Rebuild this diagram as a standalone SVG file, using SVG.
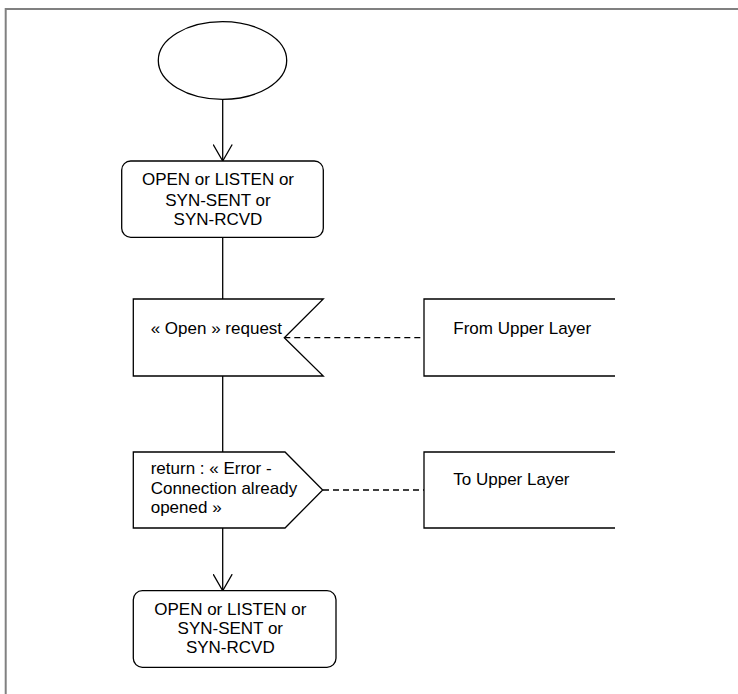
<svg xmlns="http://www.w3.org/2000/svg" width="738" height="694" viewBox="0 0 738 694">
<style>
.s{fill:#fff;stroke:#000;stroke-width:1.3}
.o{fill:none;stroke:#000;stroke-width:1.3}
.d{fill:none;stroke:#000;stroke-width:1.3;stroke-dasharray:6,4}
text{font-family:"Liberation Sans",Arial,sans-serif;font-size:17px;fill:#000}
.c{text-anchor:middle}
</style>
<defs>
<marker id="arr" viewBox="0 0 20 20" refX="17" refY="10" markerWidth="20" markerHeight="20" markerUnits="userSpaceOnUse" orient="auto">
<path d="M0.5,0.5 L17,10 L0.5,19.5" fill="none" stroke="#000" stroke-width="1.3"/>
</marker>
</defs>
<rect x="5.7" y="9" width="800" height="800" fill="none" stroke="#808080" stroke-width="2"/>
<g id="connectors">
<line class="o" x1="222.7" y1="99.3" x2="222.7" y2="161" marker-end="url(#arr)"/>
<line class="o" x1="222.7" y1="237.3" x2="222.7" y2="299"/>
<line class="o" x1="222.7" y1="376" x2="222.7" y2="452"/>
<line class="o" x1="222.7" y1="528" x2="222.7" y2="590.7" marker-end="url(#arr)"/>
<line class="d" x1="284.3" y1="337.7" x2="424" y2="337.7"/>
<line class="d" x1="323" y1="490" x2="424" y2="490"/>
</g>
<g id="start">
<ellipse class="s" cx="222.5" cy="60.5" rx="64.2" ry="38.8"/>
</g>
<g id="state1">
<rect class="s" x="121.7" y="161" width="201.6" height="76.3" rx="9" ry="9"/>
<text class="c" x="218" y="185">OPEN or LISTEN or</text>
<text class="c" x="218" y="205.5">SYN-SENT or</text>
<text class="c" x="218" y="225">SYN-RCVD</text>
</g>
<g id="input">
<path class="s" d="M133.3,299 H323.3 L284.3,337.7 L323.3,376 H133.3 Z"/>
<text x="150.7" y="334">« Open » request</text>
</g>
<g id="from-upper">
<path class="o" d="M615,299 H424 V376 H615"/>
<text x="453.3" y="334">From Upper Layer</text>
</g>
<g id="output">
<path class="s" d="M133.3,452 H285 L322.7,490 L285,528 H133.3 Z"/>
<text x="150.7" y="474">return : « Error -</text>
<text x="150.7" y="494">Connection already</text>
<text x="150.7" y="513.3">opened »</text>
</g>
<g id="to-upper">
<path class="o" d="M615,452 H424 V528 H615"/>
<text x="453.3" y="485">To Upper Layer</text>
</g>
<g id="state2">
<rect class="s" x="133.3" y="590.7" width="202.7" height="76.6" rx="9" ry="9"/>
<text class="c" x="230.3" y="615">OPEN or LISTEN or</text>
<text class="c" x="230.3" y="634">SYN-SENT or</text>
<text class="c" x="230.3" y="653.3">SYN-RCVD</text>
</g>
</svg>
